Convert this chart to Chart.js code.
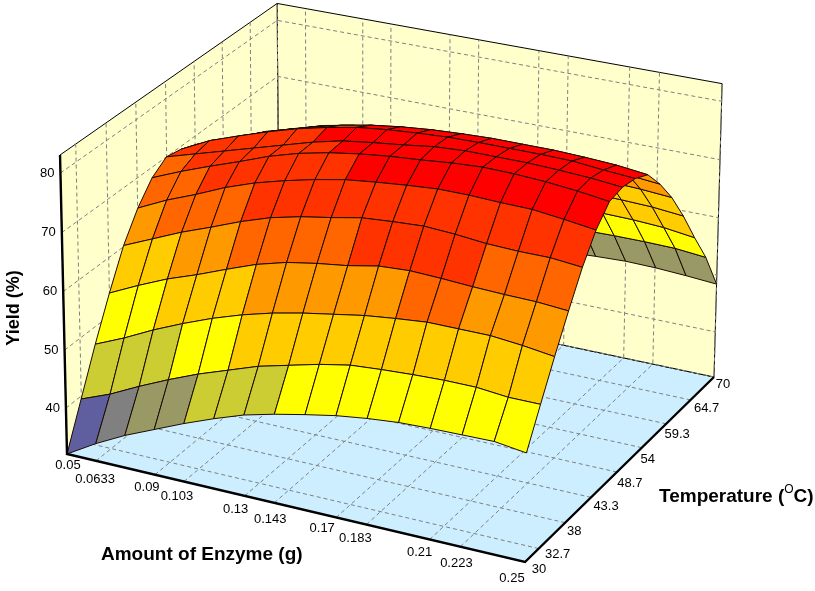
<!DOCTYPE html>
<html>
<head>
<meta charset="utf-8">
<title>Yield surface</title>
<script src="https://cdn.jsdelivr.net/npm/chart.js@4"></script>
<style>
  html, body { margin: 0; padding: 0; background: #fff; }
  canvas { display: block; }
</style>
</head>
<body>
<canvas id="surfaceChart" width="815" height="591"></canvas>
<script>
const enzymeTicks = [0.05, 0.0633, 0.09, 0.103, 0.13, 0.143, 0.17, 0.183, 0.21, 0.223, 0.25];
const tempTicks = [30, 32.7, 38, 43.3, 48.7, 54, 59.3, 64.7, 70];
const yieldTicks = [40, 50, 60, 70, 80];

// yield, one row per temperature step, 16 enzyme steps per row
const yield30 = [32, 35, 37.6, 39.8, 42, 44, 45.8, 47.1, 48.2, 49.2, 49.9, 50.4, 50.6, 50.7, 50.8, 50.1];
const yield32 = [39.5, 41.5, 44, 46.3, 48.4, 50.2, 52, 53.3, 54.6, 55.6, 56, 56.3, 56.5, 56.5, 56, 56];
const yield35 = [47, 49.2, 51.7, 53.9, 55.9, 57.6, 59, 60.1, 61, 61.9, 62.5, 63, 63, 63, 62.5, 61.8];
const yield38 = [53.9, 56.3, 58.5, 60.3, 62.3, 64.2, 65.6, 66.5, 67.2, 68.2, 68.5, 68.3, 68, 67.8, 67.7, 67.3];
const yield40 = [60.2, 62.4, 64.6, 66.5, 68.5, 70.2, 71.4, 72.3, 73.3, 73.7, 74, 73.7, 73.2, 73, 73, 72.5];
const yield43 = [64.8, 67.2, 69.2, 71.4, 73.2, 74.6, 75.8, 76.8, 77.4, 77.9, 78.3, 78.3, 78.1, 78, 77.4, 76.7];
const yield46 = [68.2, 70.3, 72.2, 74, 75.9, 77.4, 78.5, 79.3, 79.9, 80.3, 80.8, 81.1, 81, 80.7, 80.2, 79.5];
const yield48 = [70, 71.5, 73, 74.5, 76, 77.5, 78.7, 79.4, 80, 80.7, 81, 81, 81, 80.8, 80.5, 80];
const yield51 = [69.5, 72, 73.8, 75.5, 77, 78.2, 79.2, 79.8, 80.2, 80.5, 80.6, 80.6, 80.6, 80.5, 80, 79.6];
const yield54 = [68.5, 70.5, 72.3, 74, 75.5, 76.8, 77.8, 78.5, 79, 79.3, 79.5, 79.5, 79.5, 79.3, 79, 78.4];
const yield56 = [67, 69, 71, 72.5, 74, 75, 75.8, 76.4, 76.8, 77, 77, 76.8, 76.4, 76, 75.5, 75];
const yield59 = [63, 65, 67, 68.5, 69.6, 70.4, 71, 71.6, 71.9, 72, 71.9, 71.7, 71.6, 71.5, 71.3, 70.9];
const yield62 = [58, 60, 61.5, 62.8, 63.8, 64.6, 65.2, 65.8, 66.2, 66.5, 66.6, 66.7, 66.7, 66.6, 66.4, 65.9];
const yield64 = [52, 54, 55.5, 56.8, 58, 59, 59.8, 60.4, 60.8, 61, 61.2, 61.3, 61.4, 61.3, 61, 60.3];
const yield67 = [46, 48, 49.5, 50.8, 52, 53, 53.8, 54.4, 54.8, 55, 55.3, 55.5, 55.6, 55.6, 55.5, 55];
const yield70 = [40, 41.5, 43, 44.2, 45.2, 46, 46.8, 47.4, 47.9, 48.3, 48.7, 49, 49.2, 49.1, 48.8, 48.4];
const yieldRows = [yield30, yield32, yield35, yield38, yield40, yield43, yield46, yield48,
  yield51, yield54, yield56, yield59, yield62, yield64, yield67, yield70];

// colour bands of the surface
const bandLimits = [38, 41, 44.2, 50, 54.5, 60.8, 65.5, 70.55, 78.3];
const bandColors = ['#5F5F9F', '#808080', '#999966', '#CCCC33', '#FFFF00', '#FFCC00', '#FF9900', '#FF6600', '#FF3300', '#FF0000'];
// the far slope is painted a few bands lower than the near one
const rowBandShift = [0, 0, 0, 0, 0, 0, 0, 0, 0, -2, -2, -2, -1, -1, -2];

const enzymeRange = [0.05, 0.25];
const tempRange = [30, 70];
const yieldRange = [32, 83];

// camera: where the floor corners land, and where the verticals meet
const floorA = [67, 454], floorB = [525, 562], floorC = [714, 377], floorD = [279, 285];
const wallTopY = 155;
const vanish = [362, 13097];

const den = (floorB[0] - floorC[0]) * (floorD[1] - floorC[1]) - (floorD[0] - floorC[0]) * (floorB[1] - floorC[1]);
const sx = floorA[0] - floorB[0] + floorC[0] - floorD[0];
const sy = floorA[1] - floorB[1] + floorC[1] - floorD[1];
const g = (sx * (floorD[1] - floorC[1]) - (floorD[0] - floorC[0]) * sy) / den;
const h = ((floorB[0] - floorC[0]) * sy - sx * (floorB[1] - floorC[1])) / den;
const lambda = (wallTopY - floorA[1]) / (vanish[1] - wallTopY);

function projectUnit(u, v, w) {
  const X = (floorB[0] - floorA[0] + g * floorB[0]) * u + (floorD[0] - floorA[0] + h * floorD[0]) * v + floorA[0];
  const Y = (floorB[1] - floorA[1] + g * floorB[1]) * u + (floorD[1] - floorA[1] + h * floorD[1]) * v + floorA[1];
  const W = g * u + h * v + 1;
  const k = w * lambda;
  return { x: (X + k * vanish[0]) / (W + k), y: (Y + k * vanish[1]) / (W + k) };
}

const uOf = e => (e - enzymeRange[0]) / (enzymeRange[1] - enzymeRange[0]);
const vOf = t => (t - tempRange[0]) / (tempRange[1] - tempRange[0]);
const wOf = z => (z - yieldRange[0]) / (yieldRange[1] - yieldRange[0]);

function bandOf(z, row) {
  let b = bandLimits.findIndex(l => z < l);
  if (b < 0) b = bandLimits.length;
  return bandColors[Math.max(0, b + rowBandShift[row])];
}

function outline(points, color, width, dash) {
  return { data: points, borderColor: color, borderWidth: width, borderDash: dash || [], fill: false };
}
function polygon(points, fillColor, lineColor, width) {
  return { data: points.concat([points[0]]), borderColor: lineColor, borderWidth: width, backgroundColor: fillColor, fill: 'shape' };
}

const datasets = [];

// first dataset is painted last
datasets.push(outline([projectUnit(0, 0, 1), projectUnit(0, 0, 0), projectUnit(1, 0, 0), projectUnit(1, 1, 0)], '#000', 2.4));

const cells = yieldRows.length - 1;
for (let r = 0; r < cells; r++) {
  for (let c = cells; c > 0; c--) {
    const u0 = (c - 1) / cells, u1 = c / cells, v0 = r / cells, v1 = (r + 1) / cells;
    const z00 = yieldRows[r][c - 1], z10 = yieldRows[r][c], z01 = yieldRows[r + 1][c - 1], z11 = yieldRows[r + 1][c];
    const avg = (z00 + z10 + z01 + z11) / 4;
    datasets.push(polygon([
      projectUnit(u0, v0, wOf(z00)), projectUnit(u1, v0, wOf(z10)),
      projectUnit(u1, v1, wOf(z11)), projectUnit(u0, v1, wOf(z01))
    ], bandOf(avg, r), '#1a0a00', 1));
  }
}

// dashed grid on floor and walls
const dash = [4, 3];
enzymeTicks.forEach(e => {
  const u = uOf(e);
  datasets.push(outline([projectUnit(u, 0, 0), projectUnit(u, 1, 0), projectUnit(u, 1, 1)], '#808080', 1, dash));
});
tempTicks.forEach(t => {
  const v = vOf(t);
  datasets.push(outline([projectUnit(1, v, 0), projectUnit(0, v, 0), projectUnit(0, v, 1)], '#808080', 1, dash));
});
yieldTicks.forEach(z => {
  const w = wOf(z);
  datasets.push(outline([projectUnit(0, 0, w), projectUnit(0, 1, w), projectUnit(1, 1, w)], '#808080', 1, dash));
});

// floor and the two walls
datasets.push(polygon([projectUnit(0, 0, 0), projectUnit(0, 1, 0), projectUnit(0, 1, 1), projectUnit(0, 0, 1)], '#FFFFCC', '#000', 1));
datasets.push(polygon([projectUnit(0, 1, 0), projectUnit(1, 1, 0), projectUnit(1, 1, 1), projectUnit(0, 1, 1)], '#FFFFCC', '#000', 1));
datasets.push(polygon([projectUnit(0, 0, 0), projectUnit(1, 0, 0), projectUnit(1, 1, 0), projectUnit(0, 1, 0)], '#CCEEFF', '#000', 1));

// small label shifts away from the axis lines
const enzymeNudge = [[1, 11], [-1, 19], [-8, 13], [-7, 15], [-9, 14], [-4, 17], [-14, 11], [-11, 14], [-10, 13], [-4, 17], [-13, 16]];
const tempNudge = [[14, 7], [19, 6], [9, 9], [15, 9], [13, 11], [6, 12], [11, 11], [16, 8], [9, 7]];

const axisText = {
  id: 'axisText',
  afterDatasetsDraw(chart) {
    const { ctx, scales } = chart;
    const px = p => [scales.x.getPixelForValue(p.x), scales.y.getPixelForValue(p.y)];
    ctx.save();
    ctx.fillStyle = '#000';
    ctx.textBaseline = 'middle';
    ctx.textAlign = 'center';
    ctx.font = '13px "Liberation Sans", Arial, sans-serif';
    enzymeTicks.forEach((e, i) => {
      const [x, y] = px(projectUnit(uOf(e), 0, 0));
      ctx.fillText(String(e), x + enzymeNudge[i][0], y + enzymeNudge[i][1]);
    });
    tempTicks.forEach((t, i) => {
      const [x, y] = px(projectUnit(1, vOf(t), 0));
      ctx.fillText(String(t), x + tempNudge[i][0], y + tempNudge[i][1]);
    });
    ctx.textAlign = 'right';
    yieldTicks.forEach(z => {
      const [x, y] = px(projectUnit(0, 0, wOf(z)));
      ctx.fillText(String(z), x - 6, y);
    });

    const titleFont = 'bold 19px "Liberation Sans", Arial, sans-serif';
    ctx.font = titleFont;
    ctx.textAlign = 'left';
    ctx.fillText('Amount of Enzyme (g)', 101, 555);

    let tx = 659;
    const ty = 497;
    ctx.fillText('Temperature (', tx, ty);
    tx += ctx.measureText('Temperature (').width;
    ctx.font = '12px "Liberation Sans", Arial, sans-serif';
    ctx.fillText('O', tx, ty - 7);
    tx += ctx.measureText('O').width;
    ctx.font = titleFont;
    ctx.fillText('C)', tx, ty);

    ctx.font = 'bold 18px "Liberation Sans", Arial, sans-serif';
    ctx.translate(14, 308);
    ctx.rotate(-Math.PI / 2);
    ctx.textAlign = 'center';
    ctx.fillText('Yield (%)', 0, 0);
    ctx.restore();
  }
};

new Chart(document.getElementById('surfaceChart'), {
  type: 'line',
  data: { datasets },
  options: {
    responsive: false,
    animation: false,
    devicePixelRatio: 1,
    layout: { padding: 0 },
    elements: { point: { radius: 0, hitRadius: 0 }, line: { tension: 0, borderJoinStyle: 'miter' } },
    plugins: { legend: { display: false }, tooltip: { enabled: false }, filler: { drawTime: 'beforeDatasetDraw' } },
    events: [],
    scales: {
      x: { type: 'linear', min: 0, max: 815, display: false },
      y: { type: 'linear', min: 0, max: 591, reverse: true, display: false }
    }
  },
  plugins: [axisText]
});
</script>
</body>
</html>
